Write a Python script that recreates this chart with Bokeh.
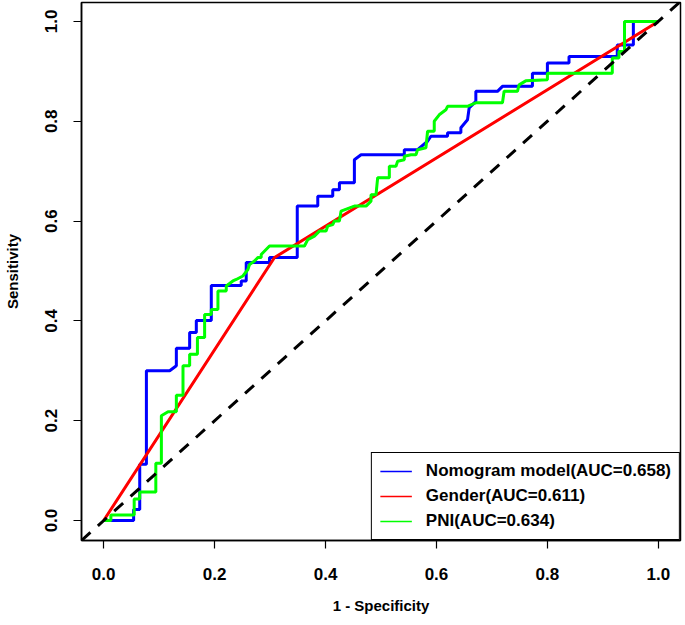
from bokeh.plotting import figure
from bokeh.models import (Range1d, FixedTicker, PrintfTickFormatter, Legend, LegendItem, Slope)
from bokeh.embed import file_html
from bokeh.resources import INLINE

# ---- data ----
nomo_fpr = [0, 0.054, 0.054, 0.065, 0.065, 0.077, 0.077, 0.119, 0.131, 0.131, 0.155, 0.155,
            0.167, 0.167, 0.194, 0.194, 0.248, 0.248, 0.257, 0.257, 0.299, 0.299, 0.349, 0.349,
            0.386, 0.386, 0.413, 0.413, 0.425, 0.425, 0.452, 0.452, 0.464, 0.542, 0.542, 0.566,
            0.584, 0.590, 0.620, 0.620, 0.644, 0.644, 0.656, 0.659, 0.671, 0.671, 0.710, 0.719,
            0.773, 0.773, 0.800, 0.800, 0.839, 0.839, 0.926, 0.926, 0.955, 0.955, 1.0]
nomo_tpr = [0, 0, 0.022, 0.022, 0.113, 0.113, 0.300, 0.300, 0.310, 0.345, 0.345, 0.377,
            0.377, 0.401, 0.401, 0.471, 0.471, 0.480, 0.480, 0.517, 0.517, 0.527, 0.527, 0.630,
            0.630, 0.650, 0.650, 0.663, 0.663, 0.677, 0.677, 0.723, 0.733, 0.733, 0.743, 0.743,
            0.760, 0.770, 0.770, 0.777, 0.777, 0.787, 0.803, 0.827, 0.840, 0.860, 0.860, 0.870,
            0.870, 0.896, 0.896, 0.917, 0.917, 0.930, 0.930, 0.953, 0.953, 1.0, 1.0]

gender_fpr = [0, 0.308, 1.0]
gender_tpr = [0, 0.527, 1.0]

pni_fpr = [0, 0.013, 0.013, 0.055, 0.055, 0.065, 0.065, 0.094, 0.094, 0.104, 0.104, 0.116,
           0.131, 0.131, 0.143, 0.143, 0.155, 0.155, 0.169, 0.169, 0.182, 0.182, 0.194, 0.194,
           0.206, 0.206, 0.221, 0.221, 0.233, 0.239, 0.251, 0.260, 0.263, 0.272, 0.278, 0.284,
           0.284, 0.299, 0.362, 0.368, 0.380, 0.389, 0.401, 0.404, 0.413, 0.416, 0.425, 0.428,
           0.452, 0.473, 0.482, 0.482, 0.491, 0.494, 0.515, 0.515, 0.527, 0.530, 0.542, 0.542,
           0.554, 0.563, 0.566, 0.581, 0.584, 0.596, 0.596, 0.605, 0.617, 0.620, 0.656, 0.662,
           0.671, 0.719, 0.722, 0.746, 0.749, 0.761, 0.800, 0.800, 0.917, 0.917, 0.929, 0.929,
           0.939, 0.939, 1.0]
pni_tpr = [0, 0, 0.011, 0.011, 0.043, 0.043, 0.057, 0.057, 0.115, 0.115, 0.210, 0.218,
           0.218, 0.251, 0.251, 0.310, 0.310, 0.333, 0.333, 0.367, 0.367, 0.413, 0.413, 0.423,
           0.423, 0.460, 0.460, 0.470, 0.480, 0.483, 0.490, 0.503, 0.513, 0.520, 0.527, 0.527,
           0.533, 0.550, 0.550, 0.563, 0.570, 0.580, 0.580, 0.590, 0.593, 0.600, 0.600, 0.620,
           0.630, 0.630, 0.640, 0.653, 0.653, 0.687, 0.687, 0.710, 0.710, 0.720, 0.723, 0.730,
           0.733, 0.733, 0.743, 0.747, 0.780, 0.780, 0.800, 0.813, 0.823, 0.830, 0.830, 0.833,
           0.837, 0.837, 0.860, 0.860, 0.873, 0.881, 0.883, 0.896, 0.896, 0.927, 0.927, 0.940,
           0.940, 1.0, 1.0]

labels = ["Nomogram model(AUC=0.658)", "Gender(AUC=0.611)", "PNI(AUC=0.634)"]
colors = ["#0000FF", "#FF0000", "#00FF00"]
ticks = [0.0, 0.2, 0.4, 0.6, 0.8, 1.0]

FONT = "Liberation Sans"

p = figure(width=684, height=623, output_backend="svg", toolbar_location=None,
           x_range=Range1d(-0.04, 1.04), y_range=Range1d(-0.04, 1.038),
           min_border_left=80, min_border_right=4, min_border_top=2, min_border_bottom=83,
           x_axis_label="1 - Specificity", y_axis_label="Sensitivity")
p.background_fill_color = "white"
p.border_fill_color = "white"
p.xgrid.visible = False
p.ygrid.visible = False
p.outline_line_color = "black"
p.outline_line_width = 1.5
p.outline_line_alpha = 1

for ax in (p.xaxis[0], p.yaxis[0]):
    ax.ticker = FixedTicker(ticks=ticks)
    ax.formatter = PrintfTickFormatter(format="%.1f")
    ax.minor_tick_line_color = None
    ax.major_tick_in = 0
    ax.major_tick_out = 8
    ax.major_tick_line_width = 1.2
    ax.major_tick_line_color = "black"
    ax.axis_line_color = "black"
    ax.axis_line_width = 1.5
    ax.major_label_text_font = FONT
    ax.major_label_text_font_style = "bold"
    ax.major_label_text_font_size = "17px"
    ax.major_label_text_color = "black"
    ax.axis_label_text_font = FONT
    ax.axis_label_text_font_style = "bold"
    ax.axis_label_text_font_size = "15px"
    ax.axis_label_text_color = "black"

p.xaxis[0].major_label_standoff = 19
p.xaxis[0].axis_label_standoff = 14
p.yaxis[0].major_label_orientation = "parallel"
p.yaxis[0].major_label_standoff = 16
p.yaxis[0].axis_label_standoff = 22

# thin proxies for the legend (hidden under the thick curves)
proxies = [p.line(x, y, line_color=c, line_width=1.6)
           for x, y, c in zip([nomo_fpr, gender_fpr, pni_fpr],
                              [nomo_tpr, gender_tpr, pni_tpr], colors)]

# ROC curves
r1 = p.line(nomo_fpr, nomo_tpr, line_color=colors[0], line_width=3)
r2 = p.line(gender_fpr, gender_tpr, line_color=colors[1], line_width=3)
r3 = p.line(pni_fpr, pni_tpr, line_color=colors[2], line_width=3)

# identity reference line
p.add_layout(Slope(gradient=1, y_intercept=0, line_color="black", line_width=3,
                   line_dash="12 10"))

legend = Legend(items=[LegendItem(label=l, renderers=[r]) for l, r in zip(labels, proxies)],
                location="bottom_right", margin=0, padding=8, spacing=5,
                label_height=20, glyph_height=20, glyph_width=32, label_standoff=14,
                border_line_color="black", border_line_width=1, border_line_alpha=1,
                background_fill_color="white", background_fill_alpha=1,
                label_text_font=FONT, label_text_font_style="bold",
                label_text_font_size="17px", label_text_color="black")
p.add_layout(legend)

open("out.html", "w").write(file_html(p, INLINE))
